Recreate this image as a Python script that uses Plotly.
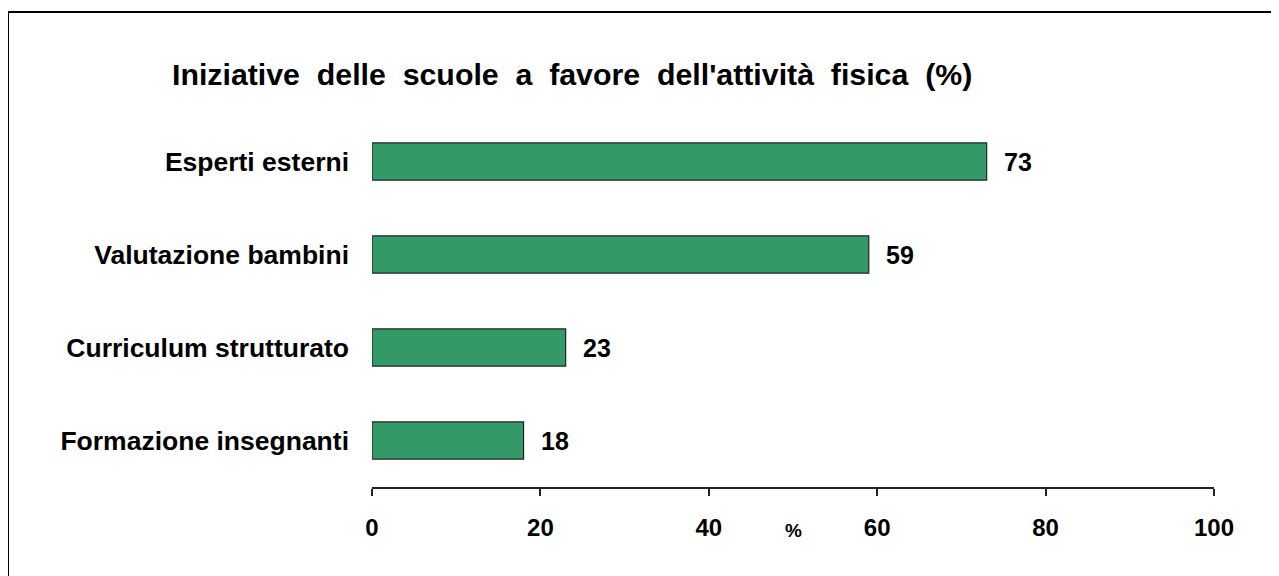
# Iniziative delle scuole a favore dell'attività fisica
import plotly.graph_objects as go

# dati
categorie = ["Formazione insegnanti", "Curriculum strutturato", "Valutazione bambini", "Esperti esterni"]
valori = [18, 23, 59, 73]
tick_vals = [0, 20, 40, 60, 80, 100]

FONT = "Liberation Sans, Arial, sans-serif"
VERDE = "#339966"

fig = go.Figure()

fig.add_trace(go.Bar(
    x=valori,
    y=categorie,
    orientation="h",
    width=0.4,
    marker=dict(color=VERDE, line=dict(color="#222222", width=1.2)),
    hoverinfo="x+y",
))

# etichette dei valori a destra delle barre
for cat, v in zip(categorie, valori):
    fig.add_annotation(
        x=v, y=cat, text=f"<b>{v}</b>", showarrow=False,
        xanchor="left", xshift=15, yshift=0,
        font=dict(family=FONT, size=25, color="black"),
    )

# etichetta "%" sotto l'asse
fig.add_annotation(
    x=50, y=0, yref="paper", text="<b>%</b>", showarrow=False,
    yanchor="middle", yshift=-43,
    font=dict(family=FONT, size=19, color="black"),
)

# cornice
fig.add_shape(
    type="rect", xref="paper", yref="paper",
    x0=-0.4323, x1=2, y0=-2, y1=1.2769,
    line=dict(color="black", width=2), fillcolor="rgba(0,0,0,0)",
)

fig.update_layout(
    width=1279, height=576,
    margin=dict(l=364, r=73, t=107, b=97),
    paper_bgcolor="white", plot_bgcolor="white",
    showlegend=False,
    title=dict(
        text="<b>Iniziative  delle  scuole  a  favore  dell'attività  fisica  (%)</b>",
        xref="container", yref="container",
        x=164 / 1279, xanchor="left",
        y=1 - 66 / 576, yanchor="middle",
        font=dict(family=FONT, size=30.3, color="black"),
    ),
    xaxis=dict(
        range=[0, 100], tickvals=tick_vals,
        ticktext=[f"<b>{t}</b>" for t in tick_vals],
        showgrid=False, zeroline=False,
        showline=True, linecolor="#222222", linewidth=1.5,
        ticks="outside", ticklen=7, tickcolor="#222222", tickwidth=1.5,
        tickfont=dict(family=FONT, size=24, color="black"),
        ticklabelstandoff=11,
    ),
    yaxis=dict(
        range=[-0.5, 3.5],
        tickvals=categorie,
        ticktext=[f"<b>{c}</b>" for c in categorie],
        showgrid=False, zeroline=False, showline=False,
        tickfont=dict(family=FONT, size=26.5, color="black"),
        ticklabelstandoff=22,
    ),
)

fig.write_html("out.html")
